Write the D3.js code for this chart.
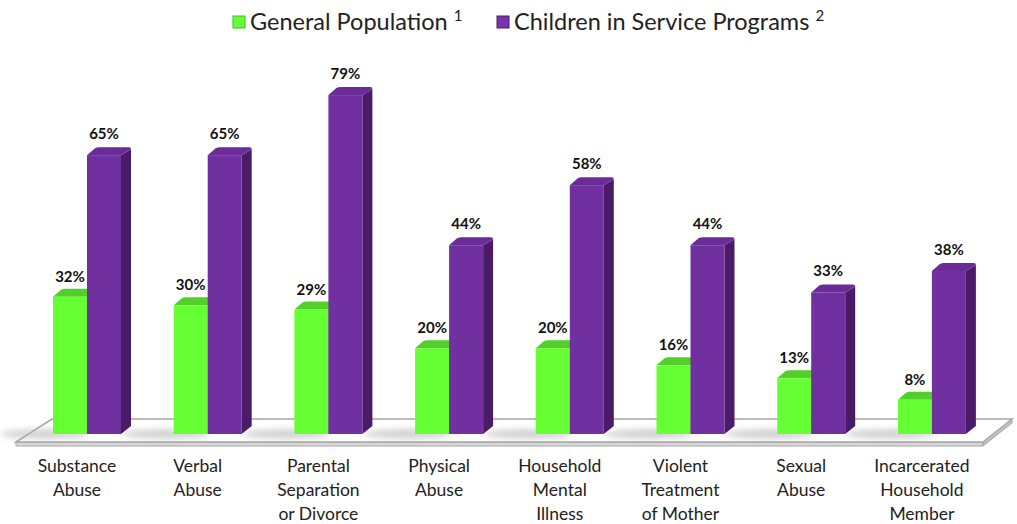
<!DOCTYPE html>
<html>
<head>
<meta charset="utf-8">
<script src="https://cdn.jsdelivr.net/npm/d3@7"></script>
<style>
  body { margin: 0; background: #fff; }
  svg { display: block; font-family: 'Lato', 'Open Sans', sans-serif; }
</style>
</head>
<body>
<div id="chart"></div>
<script>
// data
let categories = [
  ['Substance', 'Abuse'],
  ['Verbal', 'Abuse'],
  ['Parental', 'Separation', 'or Divorce'],
  ['Physical', 'Abuse'],
  ['Household', 'Mental', 'Illness'],
  ['Violent', 'Treatment', 'of Mother'],
  ['Sexual', 'Abuse'],
  ['Incarcerated', 'Household', 'Member']
]
let generalPop = [32, 30, 29, 20, 20, 16, 13, 8]
let childrenServ = [65, 65, 79, 44, 58, 44, 33, 38]
let seriesNames = ['General Population', 'Children in Service Programs']

let width = 1017
let height = 524

let svg = d3.select('#chart')
  .append('svg')
  .attr('width', width)
  .attr('height', height)

let keys = categories.map(d => d.join(' '))

let xScale = d3.scaleBand()
  .domain(keys)
  .range([23, 23 + 8 * 120.7])
  .padding(0)

let yScale = d3.scaleLinear()
  .domain([0, 100])
  .range([434, 5])

let barW = 34
let dx = 10
let dy = -8

// floor slab
let floor = svg.append('g').attr('class', 'floor')
floor.append('path')
  .attr('d', 'M16,442 L983,442 L983,446 L16,446 Z')
  .attr('fill', '#d9d9d9')
  .attr('stroke', '#a6a6a6')
  .attr('stroke-width', 1)
floor.append('path')
  .attr('d', 'M16,442 L52,419 L1012,419 L983,442 Z')
  .attr('fill', '#fff')
  .attr('stroke', '#a6a6a6')
  .attr('stroke-width', 1.5)
floor.append('path')
  .attr('d', 'M1012,419 L1012,423 L983,446 L983,442 Z')
  .attr('fill', '#bfbfbf')
  .attr('stroke', '#a6a6a6')
  .attr('stroke-width', 1)

// soft shadows behind bars on the floor
svg.append('g')
  .selectAll('ellipse')
  .data(keys)
  .join('ellipse')
  .attr('cx', d => xScale(d) + 22)
  .attr('cy', 434)
  .attr('rx', 44)
  .attr('ry', 5)
  .attr('fill', '#b5b5b5')
  .attr('opacity', 0.6)
  .style('filter', 'blur(3px)')

function drawBar(g, x, v, front, side, top) {
  let y = yScale(v)
  let yb = yScale(0)
  g.append('path')
    .attr('d', `M${x + barW},${yb} L${x + barW + dx},${yb + dy} L${x + barW + dx},${y + dy + 2} L${x + barW},${y} Z`)
    .attr('fill', side)
  g.append('path')
    .attr('d', `M${x},${y} L${x + dx - 2},${y + dy + 1} Q${x + dx},${y + dy} ${x + dx + 2},${y + dy} L${x + barW + dx - 2},${y + dy} Q${x + barW + dx},${y + dy} ${x + barW + dx},${y + dy + 2} L${x + barW},${y} Z`)
    .attr('fill', top)
  g.append('rect')
    .attr('x', x)
    .attr('y', y)
    .attr('width', barW)
    .attr('height', yb - y)
    .attr('fill', front)
}

let groups = svg.append('g')
  .selectAll('.grp')
  .data(keys)
  .join('g')
  .attr('class', 'grp')

groups.each(function(d, i) {
  let g = d3.select(this)
  let s = xScale(d)
  // green first: the purple bar in front hides its side
  drawBar(g, s + 30, generalPop[i], '#66ff33', '#3f9e20', '#52cf2a')
  drawBar(g, s + 64, childrenServ[i], '#7030a0', '#4a1c68', '#6a2c98')

  g.append('text')
    .text(generalPop[i] + '%')
    .attr('x', s + 30 + barW / 2)
    .attr('y', yScale(generalPop[i]) - 15)
    .attr('text-anchor', 'middle')
    .attr('font-size', 15)
    .attr('font-weight', 'bold')
    .attr('fill', '#111')

  g.append('text')
    .text(childrenServ[i] + '%')
    .attr('x', s + 64 + barW / 2)
    .attr('y', yScale(childrenServ[i]) - 16)
    .attr('text-anchor', 'middle')
    .attr('font-size', 15)
    .attr('font-weight', 'bold')
    .attr('fill', '#111')

  g.append('text')
    .attr('text-anchor', 'middle')
    .attr('font-size', 17.5)
    .attr('fill', '#222')
    .selectAll('tspan')
    .data(categories[i])
    .join('tspan')
    .attr('x', s + 54)
    .attr('y', (t, j) => 472 + j * 24)
    .text(t => t)
})

// legend
let legend = svg.append('g').attr('class', 'legend')
let legendItems = [
  { name: seriesNames[0], sup: '1', x: 233, front: '#66ff33', dark: '#3fbf1f' },
  { name: seriesNames[1], sup: '2', x: 497, front: '#7a33b0', dark: '#4a1c68' }
]
legendItems.forEach(item => {
  legend.append('rect')
    .attr('x', item.x)
    .attr('y', 16)
    .attr('width', 12)
    .attr('height', 12)
    .attr('fill', item.front)
    .attr('stroke', item.dark)
    .attr('stroke-width', 1)
  let t = legend.append('text')
    .attr('x', item.x + 17)
    .attr('y', 30)
    .attr('font-size', 23.5)
    .attr('fill', '#222')
  t.append('tspan').text(item.name + ' ')
  t.append('tspan')
    .attr('dy', -9)
    .attr('font-size', 15)
    .text(item.sup)
})
</script>
</body>
</html>
